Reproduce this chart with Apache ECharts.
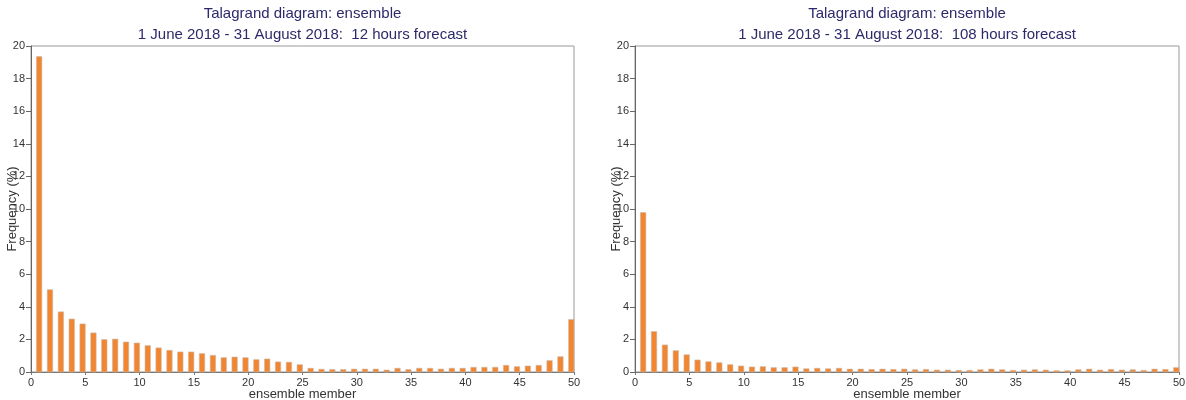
<!DOCTYPE html>
<html>
<head>
<meta charset="utf-8">
<script src="https://cdn.jsdelivr.net/npm/echarts@6/dist/echarts.min.js"></script>
<style>
  html, body { margin: 0; padding: 0; background: #ffffff; }
  #chart { width: 1186px; height: 400px; }
</style>
</head>
<body>
<div id="chart"></div>
<script>
// Rank of the observation among the 50 ensemble members (bins 1..50)
const members = [1,2,3,4,5,6,7,8,9,10,11,12,13,14,15,16,17,18,19,20,
  21,22,23,24,25,26,27,28,29,30,31,32,33,34,35,36,37,38,39,40,
  41,42,43,44,45,46,47,48,49,50];

// Frequency (%) per rank, 12 hours forecast
const freq12h = [19.35,5.05,3.69,3.25,2.95,2.40,1.99,2.02,1.84,1.78,
  1.62,1.48,1.33,1.23,1.23,1.13,1.02,0.88,0.92,0.88,
  0.76,0.80,0.62,0.60,0.45,0.23,0.17,0.15,0.15,0.18,
  0.18,0.18,0.12,0.23,0.15,0.23,0.23,0.18,0.23,0.23,
  0.29,0.29,0.29,0.41,0.33,0.37,0.41,0.70,0.94,3.22];

// Frequency (%) per rank, 108 hours forecast
const freq108h = [9.78,2.48,1.66,1.31,1.06,0.74,0.63,0.57,0.45,0.37,
  0.31,0.33,0.27,0.27,0.31,0.20,0.23,0.20,0.23,0.18,
  0.18,0.16,0.18,0.16,0.18,0.14,0.16,0.12,0.12,0.10,
  0.10,0.14,0.18,0.14,0.10,0.12,0.14,0.12,0.08,0.08,
  0.14,0.18,0.12,0.16,0.12,0.14,0.10,0.18,0.16,0.27];

const xTicks = [0, 5, 10, 15, 20, 25, 30, 35, 40, 45, 50];
const yTicks = [0, 2, 4, 6, 8, 10, 12, 14, 16, 18, 20];

const titles = [
  'Talagrand diagram: ensemble\n1 June 2018 - 31 August 2018:  12 hours forecast',
  'Talagrand diagram: ensemble\n1 June 2018 - 31 August 2018:  108 hours forecast'
];

const FONT = '"Liberation Sans", Arial, Helvetica, sans-serif';
const grids = [
  { left: 31, top: 46, width: 543, height: 326 },
  { left: 635, top: 46, width: 544, height: 326 }
];

function xAxis(i) {
  return {
    type: 'value', gridIndex: i, min: xTicks[0], max: xTicks[xTicks.length - 1], interval: 5,
    name: 'ensemble member', nameLocation: 'middle', nameGap: 16, nameMoveOverlap: false,
    nameTextStyle: { fontFamily: FONT, fontSize: 13, color: '#333' },
    axisLine: { show: true, lineStyle: { color: '#777', width: 1 } },
    axisTick: { show: true, length: 3, lineStyle: { color: '#777' } },
    axisLabel: { fontFamily: FONT, fontSize: 11, color: '#333', margin: 5 },
    splitLine: { show: false }
  };
}

function yAxis(i) {
  return {
    type: 'value', gridIndex: i, min: yTicks[0], max: yTicks[yTicks.length - 1], interval: 2,
    name: 'Frequency (%)', nameLocation: 'middle', nameGap: 12, nameMoveOverlap: false,
    nameTextStyle: { fontFamily: FONT, fontSize: 13, color: '#333' },
    axisLine: { show: true, lineStyle: { color: '#666', width: 1 } },
    axisTick: { show: true, length: 5, lineStyle: { color: '#666' } },
    axisLabel: { fontFamily: FONT, fontSize: 11, color: '#333', margin: 6 },
    splitLine: { show: false }
  };
}

// Each rank's bar fills the right half of its unit interval: [m - 0.5, m]
function rankBars(values, i) {
  return {
    type: 'custom', xAxisIndex: i, yAxisIndex: i,
    data: members.map((m, k) => [m, values[k]]),
    renderItem: function (params, api) {
      const m = api.value(0), v = api.value(1);
      const p0 = api.coord([m - 0.5, v]);
      const p1 = api.coord([m, 0]);
      return {
        type: 'rect',
        shape: { x: p0[0], y: p0[1], width: p1[0] - p0[0], height: p1[1] - p0[1] },
        style: { fill: '#f28530', stroke: '#c9b8a8', lineWidth: 0.6 }
      };
    }
  };
}

const chart = echarts.init(document.getElementById('chart'), null, { renderer: 'canvas' });
chart.setOption({
  animation: false,
  backgroundColor: '#ffffff',
  title: titles.map((t, i) => ({
    text: t,
    left: grids[i].left + grids[i].width / 2,
    top: 3,
    padding: 0,
    textAlign: 'center',
    textStyle: { fontFamily: FONT, fontSize: 15, fontWeight: 'normal', color: '#2d2a6a', lineHeight: 21 }
  })),
  grid: grids.map(g => Object.assign({
    show: true, borderColor: '#999', borderWidth: 1, backgroundColor: 'transparent',
    containLabel: false, outerBoundsMode: 'none'
  }, g)),
  xAxis: [xAxis(0), xAxis(1)],
  yAxis: [yAxis(0), yAxis(1)],
  series: [rankBars(freq12h, 0), rankBars(freq108h, 1)]
});
</script>
</body>
</html>
